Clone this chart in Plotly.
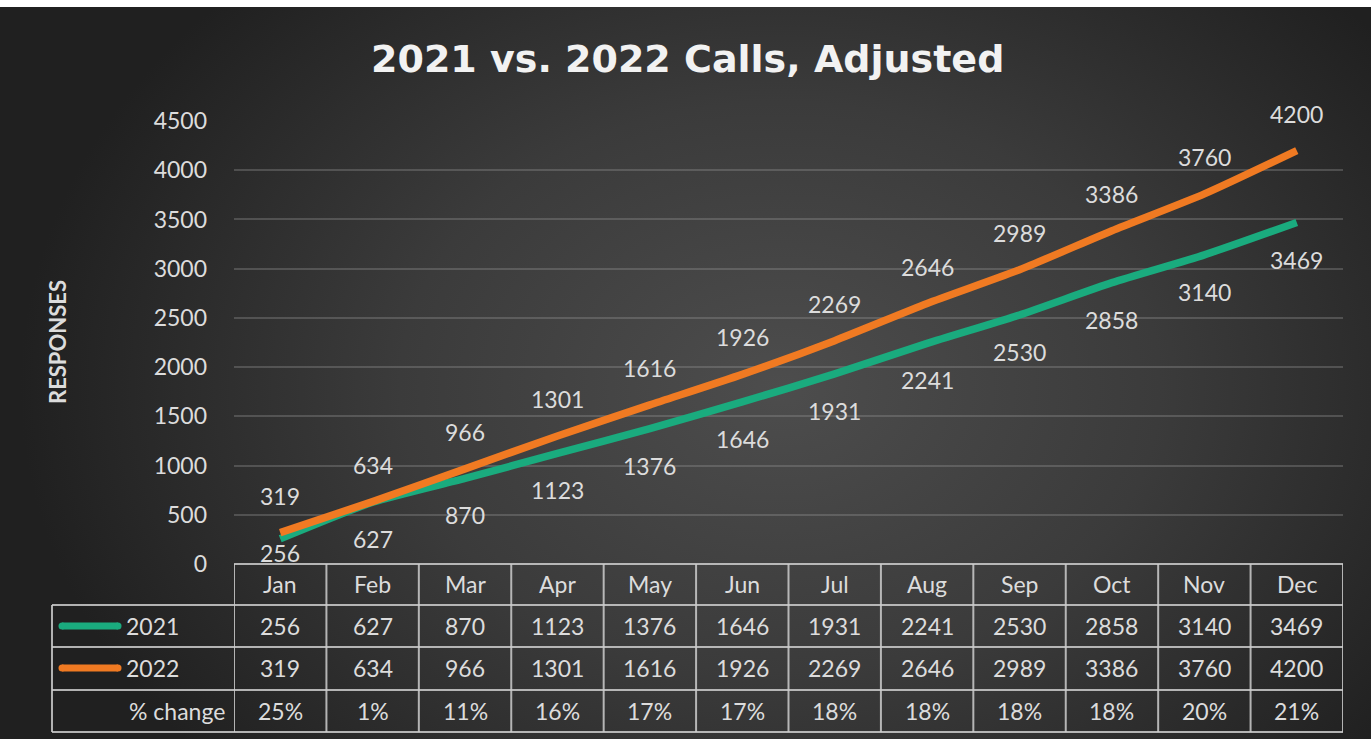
import base64
import plotly.graph_objects as go

# ---------------- data ----------------
months = ["Jan", "Feb", "Mar", "Apr", "May", "Jun", "Jul", "Aug", "Sep", "Oct", "Nov", "Dec"]
calls_2021 = [256, 627, 870, 1123, 1376, 1646, 1931, 2241, 2530, 2858, 3140, 3469]
calls_2022 = [319, 634, 966, 1301, 1616, 1926, 2269, 2646, 2989, 3386, 3760, 4200]
pct_change = ["25%", "1%", "11%", "16%", "17%", "17%", "18%", "18%", "18%", "18%", "20%", "21%"]
y_ticks = [0, 500, 1000, 1500, 2000, 2500, 3000, 3500, 4000, 4500]

title = "2021 vs. 2022 Calls, Adjusted"
y_title = "RESPONSES"
series_names = ["2021", "2022"]
row3_label = "% change"

# ---------------- layout geometry (pixels) ----------------
W, H = 1371, 739
PL, PR = 234, 1343      # plot area left/right
PT, PB = 121, 564       # plot area top/bottom
YMAX = 4500
GREEN = "#1aab7e"
ORANGE = "#f07a22"
TXT = "#dcdcdc"
GRID = "rgba(150,150,150,0.35)"
BORDER = "rgba(205,205,205,0.85)"
FONT = "Lato"
FS = 23
LABEL_OFF = 37          # label offset from the line, px
LABEL_LOWEST = 553      # lowest label centre allowed, px


def px(xp):
    return (xp - PL) / (PR - PL)


def py(yp):
    return (PB - yp) / (PB - PT)


fig = go.Figure()

fig.add_trace(go.Scatter(x=list(range(12)), y=calls_2021, mode="lines", name=series_names[0],
                         line=dict(color=GREEN, width=7.5, shape="spline", smoothing=0.6),
                         cliponaxis=False, hoverinfo="x+y"))
fig.add_trace(go.Scatter(x=list(range(12)), y=calls_2022, mode="lines", name=series_names[1],
                         line=dict(color=ORANGE, width=7.5, shape="spline", smoothing=0.6),
                         cliponaxis=False, hoverinfo="x+y"))

annotations = []
tf = dict(size=FS, color=TXT, family=FONT)
# data labels
for i, v in enumerate(calls_2022):
    annotations.append(dict(x=i, y=v, xref="x", yref="y", text=str(v), showarrow=False,
                            xanchor="center", yanchor="middle", yshift=LABEL_OFF, font=tf))
for i, v in enumerate(calls_2021):
    p = PB - v / YMAX * (PB - PT)
    shift = min(p + LABEL_OFF, LABEL_LOWEST) - p
    annotations.append(dict(x=i, y=v, xref="x", yref="y", text=str(v), showarrow=False,
                            xanchor="center", yanchor="middle", yshift=-shift, font=tf))

# title
annotations.append(dict(x=px(687), y=py(59), xref="paper", yref="paper", text=f"<b>{title}</b>",
                        showarrow=False, xanchor="center", yanchor="middle",
                        font=dict(size=38, color="#f2f2f2", family="DejaVu Sans")))
# y title
annotations.append(dict(x=px(57), y=py(342), xref="paper", yref="paper", text=f"<b>{y_title}</b>",
                        showarrow=False, textangle=-90, xanchor="center", yanchor="middle",
                        font=dict(size=22, color=TXT, family=FONT)))

# table text
row_y = [584, 626, 668, 711]
for i, m in enumerate(months):
    for r, txt in enumerate([m, str(calls_2021[i]), str(calls_2022[i]), pct_change[i]]):
        annotations.append(dict(x=i, y=py(row_y[r]), xref="x", yref="paper", text=txt, showarrow=False,
                                xanchor="center", yanchor="middle", font=tf))
annotations.append(dict(x=px(124), y=py(row_y[1]), xref="paper", yref="paper", text=series_names[0],
                        xanchor="left", yanchor="middle", showarrow=False, font=tf))
annotations.append(dict(x=px(124), y=py(row_y[2]), xref="paper", yref="paper", text=series_names[1],
                        xanchor="left", yanchor="middle", showarrow=False, font=tf))
annotations.append(dict(x=px(227), y=py(row_y[3]), xref="paper", yref="paper", text=row3_label,
                        xanchor="right", yanchor="middle", showarrow=False, font=tf))

# table borders
shapes = []
lw = 2
shapes.append(dict(type="line", xref="paper", yref="paper", x0=px(PL), x1=px(PR), y0=py(564), y1=py(564),
                   line=dict(color=BORDER, width=lw)))
for yy in [605, 647, 690, 732]:
    shapes.append(dict(type="line", xref="paper", yref="paper", x0=px(52), x1=px(PR), y0=py(yy), y1=py(yy),
                       line=dict(color=BORDER, width=lw)))
shapes.append(dict(type="line", xref="paper", yref="paper", x0=px(52), x1=px(52), y0=py(605), y1=py(732),
                   line=dict(color=BORDER, width=lw)))
for k in range(13):
    shapes.append(dict(type="line", xref="x", yref="paper", x0=k - 0.5, x1=k - 0.5, y0=py(564), y1=py(732),
                       line=dict(color=BORDER, width=lw)))
# legend keys
for yy, col in [(626, GREEN), (668, ORANGE)]:
    shapes.append(dict(type="line", xref="paper", yref="paper", x0=px(62), x1=px(118), y0=py(yy), y1=py(yy),
                       line=dict(color=col, width=7)))
    for cx in (62, 118):
        shapes.append(dict(type="circle", xref="paper", yref="paper", x0=px(cx - 3.5), x1=px(cx + 3.5),
                           y0=py(yy + 3.5), y1=py(yy - 3.5), fillcolor=col, line=dict(width=0)))

# background radial gradient (as svg image)
svg = f'''<svg xmlns="http://www.w3.org/2000/svg" width="{W}" height="{H - 7}">
<defs><radialGradient id="g" gradientUnits="userSpaceOnUse" cx="780" cy="380" r="760"
 gradientTransform="translate(780 380) scale(1 0.75) translate(-780 -380)">
<stop offset="0" stop-color="#4d4d4d"/><stop offset="0.5" stop-color="#3b3b3b"/>
<stop offset="1" stop-color="#202020"/></radialGradient></defs>
<rect x="0" y="0" width="{W}" height="{H - 7}" fill="url(#g)"/></svg>'''
src = "data:image/svg+xml;base64," + base64.b64encode(svg.encode()).decode()
images = [dict(source=src, xref="paper", yref="paper", x=px(0), y=py(7),
               sizex=W / (PR - PL), sizey=(H - 7) / (PB - PT), sizing="stretch",
               xanchor="left", yanchor="top", layer="below")]

fig.update_layout(
    width=W, height=H,
    margin=dict(l=PL, r=W - PR, t=PT, b=H - PB, pad=0),
    paper_bgcolor="white", plot_bgcolor="rgba(0,0,0,0)",
    showlegend=False,
    font=dict(family=FONT, color=TXT),
    xaxis=dict(range=[-0.5, 11.5], showticklabels=False, showgrid=False, zeroline=False,
               showline=False, fixedrange=True),
    yaxis=dict(range=[0, YMAX], tickvals=y_ticks, showgrid=True, gridcolor=GRID, gridwidth=1.5,
               zeroline=False, showline=False, tickfont=tf,
               ticklabelstandoff=26, fixedrange=True),
    annotations=annotations,
    shapes=shapes,
    images=images,
)

fig.write_html("out.html", config={"displayModeBar": False},
               post_script="document.body.style.margin='0';document.body.style.overflow='hidden';")
